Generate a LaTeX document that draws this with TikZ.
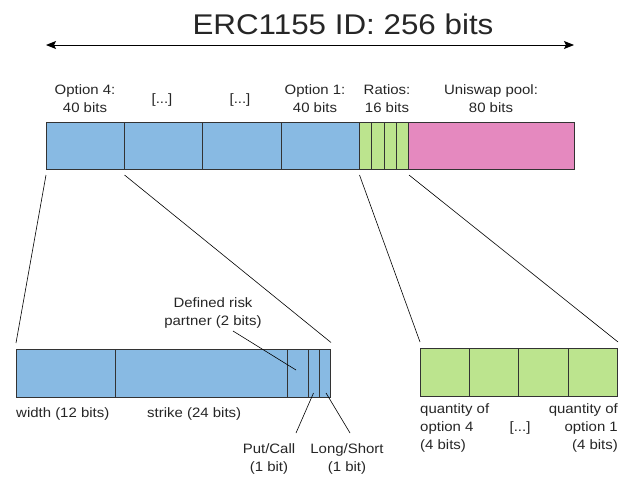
\documentclass[tikz,border=0pt]{standalone}
\usepackage{fontspec}
\setmainfont{Liberation Sans}[FakeStretch=1.1]
\usetikzlibrary{arrows.meta}
\definecolor{segblue}{HTML}{88BAE3}
\definecolor{seggreen}{HTML}{BCE48E}
\definecolor{segpink}{HTML}{E589BF}
\definecolor{edge}{HTML}{333333}
\tikzset{
  seg/.style={draw=edge, line width=1pt, inner sep=0pt, outer sep=0pt, anchor=north west},
  bseg/.style={seg, fill=segblue},
  gseg/.style={seg, fill=seggreen},
  pseg/.style={seg, fill=segpink},
  lbl/.style={inner sep=0pt, font=\fontsize{13.6}{18}\selectfont, text=black!85},
  lead/.style={draw=black, line width=0.6pt}
}
\begin{document}
\begin{tikzpicture}[x=1pt,y=-1pt]
\useasboundingbox (0,0) rectangle (634,479);
% title and arrow
\node[inner sep=0pt, font=\fontsize{28.5}{32}\selectfont, text=black!85] (title) at (343,24) {ERC1155 ID: 256 bits};
\coordinate (al) at (46,45);
\coordinate (ar) at (574,45);
\draw[line width=1pt, {Stealth[length=10pt,width=8pt,inset=2pt]}-{Stealth[length=10pt,width=8pt,inset=2pt]}] (al) -- (ar);
% top bar
\node[bseg, minimum width=78.2pt, minimum height=47pt] (o4) at (46.5,122) {};
\node[bseg, minimum width=78.2pt, minimum height=47pt] (o3) at (124.7,122) {};
\node[bseg, minimum width=78.2pt, minimum height=47pt] (o2) at (202.9,122) {};
\node[bseg, minimum width=78.2pt, minimum height=47pt] (o1) at (281.1,122) {};
\node[gseg, minimum width=12.4pt, minimum height=47pt] (r1) at (359.3,122) {};
\node[gseg, minimum width=12.4pt, minimum height=47pt] (r2) at (371.7,122) {};
\node[gseg, minimum width=12.4pt, minimum height=47pt] (r3) at (384.1,122) {};
\node[gseg, minimum width=12.4pt, minimum height=47pt] (r4) at (396.5,122) {};
\node[pseg, minimum width=165.4pt, minimum height=47pt] (uni) at (408.9,122) {};
% top labels
\node[lbl, align=center] (lo4) at (85,99) {Option 4:\\40 bits};
\node[lbl] (lo3) at (162,100) {[...]};
\node[lbl] (lo2) at (240,100) {[...]};
\node[lbl, align=center] (lo1) at (315,99) {Option 1:\\40 bits};
\node[lbl, align=center] (lr) at (387,99) {Ratios:\\16 bits};
\node[lbl, align=center] (lu) at (491,99) {Uniswap pool:\\80 bits};
% bottom left bar
\node[bseg, minimum width=99.7pt, minimum height=48pt] (wid) at (16,349) {};
\node[bseg, minimum width=171.6pt, minimum height=48pt] (str) at (115.7,349) {};
\node[bseg, minimum width=21.4pt, minimum height=48pt] (drp) at (287.3,349) {};
\node[bseg, minimum width=10.6pt, minimum height=48pt] (pc) at (308.7,349) {};
\node[bseg, minimum width=11pt, minimum height=48pt] (ls) at (319.3,349) {};
% bottom right bar
\node[gseg, minimum width=49.4pt, minimum height=48.4pt] (q4) at (420,348.3) {};
\node[gseg, minimum width=49.4pt, minimum height=48.4pt] (q3) at (469.4,348.3) {};
\node[gseg, minimum width=49.4pt, minimum height=48.4pt] (q2) at (518.8,348.3) {};
\node[gseg, minimum width=49.4pt, minimum height=48.4pt] (q1) at (568.2,348.3) {};
% expansion lines
\coordinate (e1a) at (46,175);  \coordinate (e1b) at (16,343);
\coordinate (e2a) at (124.5,175); \coordinate (e2b) at (331,342.5);
\coordinate (e3a) at (359.5,175); \coordinate (e3b) at (420,342);
\coordinate (e4a) at (409,175); \coordinate (e4b) at (618,342);
\draw[lead] (e1a) -- (e1b);
\draw[lead] (e2a) -- (e2b);
\draw[lead] (e3a) -- (e3b);
\draw[lead] (e4a) -- (e4b);
% bottom left labels
\node[lbl, anchor=west] (lw) at (16,414) {width (12 bits)};
\node[lbl, anchor=west] (ls2) at (147,414) {strike (24 bits)};
\node[lbl, align=center] (ldrp) at (213,313) {Defined risk\\partner (2 bits)};
\node[lbl, align=center] (lpc) at (269,459) {Put/Call\\(1 bit)};
\node[lbl, align=center] (lls) at (347,459) {Long/Short\\(1 bit)};
\coordinate (d1) at (233,331); \coordinate (d2) at (296,370);
\coordinate (p1) at (313.5,393); \coordinate (p2) at (296,433);
\coordinate (s1) at (326,393); \coordinate (s2) at (350,433);
\draw[lead] (d1) -- (d2);
\draw[lead] (p1) -- (p2);
\draw[lead] (s1) -- (s2);
% bottom right labels
\node[lbl, align=left, anchor=north west] (lq4) at (420,403) {quantity of\\option 4\\(4 bits)};
\node[lbl] (lq) at (520,428) {[...]};
\node[lbl, align=right, anchor=north east] (lq1) at (618,403) {quantity of\\option 1\\(4 bits)};
\end{tikzpicture}
\end{document}
